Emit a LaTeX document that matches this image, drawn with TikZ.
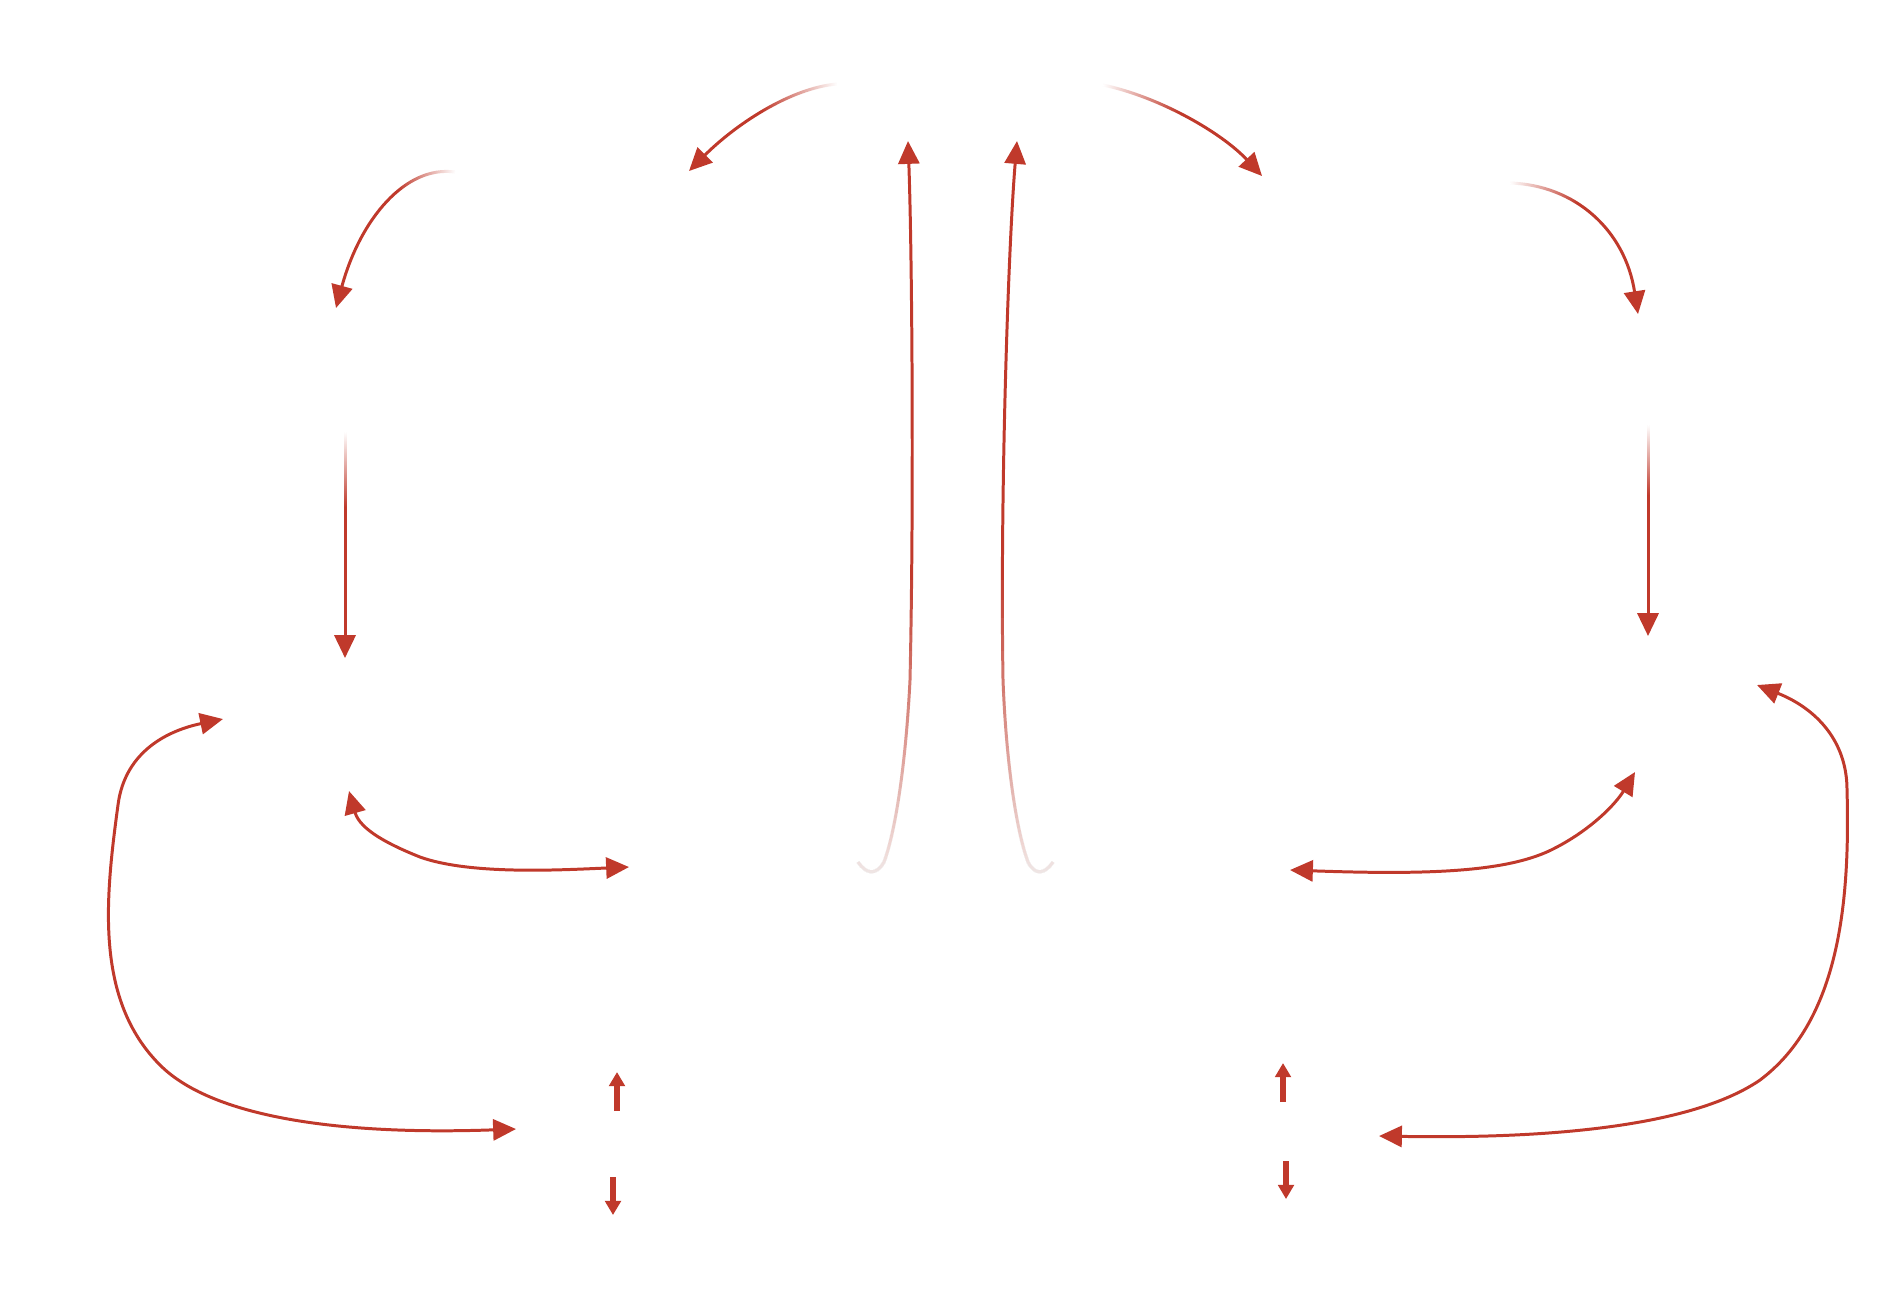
\documentclass[tikz,border=0pt]{standalone}
\usetikzlibrary{arrows.meta,fadings}
\definecolor{arr}{HTML}{C0392B}
\tikzfading[name=fadeout, inner color=transparent!0, outer color=transparent!100]
\begin{document}
\begin{tikzpicture}[x=0.01cm,y=-0.01cm,
  conn/.style={draw=arr, line width=0.85pt, -{Triangle[length=6.5pt,width=6pt]}},
  dbl/.style={draw=arr, line width=0.85pt, {Triangle[length=6.5pt,width=6pt]}-{Triangle[length=6.5pt,width=6pt]}},
  tiny/.style={draw=arr, line width=1.5pt, -{Triangle[length=4pt,width=4.4pt]}},
  eraser/.style={fill=white, path fading=fadeout},
  veil/.style={fill=white, opacity=0.06}]
\useasboundingbox (0,0) rectangle (1889,1299);
% end points
\coordinate (tlS) at (837,84);   \coordinate (tlE) at (689,171);
\coordinate (trS) at (1103,85);  \coordinate (trE) at (1262,176);
\coordinate (vlS) at (858,862);  \coordinate (vlE) at (908,141);
\coordinate (vrS) at (1053,862); \coordinate (vrE) at (1017,141);
\coordinate (slS) at (455,172);  \coordinate (slE) at (336,308);
\coordinate (srS) at (1510,183); \coordinate (srE) at (1638,314);
\coordinate (dlS) at (345,432);  \coordinate (dlE) at (345,658);
\coordinate (drS) at (1648,425); \coordinate (drE) at (1648,636);
\coordinate (blA) at (223,719);  \coordinate (blB) at (516,1129);
\coordinate (mlA) at (349,791);  \coordinate (mlB) at (629,867);
\coordinate (mrA) at (1635,772); \coordinate (mrB) at (1290,870);
\coordinate (brA) at (1757,685); \coordinate (brB) at (1379,1136);
\coordinate (ulT) at (617,1111); \coordinate (ulH) at (617,1072);
\coordinate (dlT) at (613,1177); \coordinate (dlH) at (613,1215);
\coordinate (urT) at (1283,1102);\coordinate (urH) at (1283,1063);
\coordinate (drT) at (1286,1161);\coordinate (drH) at (1286,1199);
% top arcs
\draw[conn] (tlS) .. controls (790,88) and (735,125) .. (tlE);
\draw[conn] (trS) .. controls (1160,97) and (1222,133) .. (trE);
% long verticals
\draw[conn] (vlS) .. controls (866,874) and (876,876) .. (884,862)
  .. controls (896,830) and (906,760) .. (910,680)
  .. controls (914,500) and (912,250) .. (vlE);
\draw[conn] (vrS) .. controls (1045,874) and (1035,876) .. (1028,862)
  .. controls (1016,830) and (1006,760) .. (1003,680)
  .. controls (1000,500) and (1008,250) .. (vrE);
% small upper arcs
\draw[conn] (slS) .. controls (405,165) and (360,220) .. (slE);
\draw[conn] (srS) .. controls (1575,185) and (1625,230) .. (srE);
% straight verticals
\draw[conn] (dlS) -- (dlE);
\draw[conn] (drS) -- (drE);
% big loops
\draw[dbl] (blA) .. controls (170,730) and (125,750) .. (118,805)
  .. controls (105,900) and (95,1000) .. (160,1065)
  .. controls (215,1120) and (350,1135) .. (blB);
\draw[dbl] (brA) .. controls (1815,708) and (1847,740) .. (1847,790)
  .. controls (1850,900) and (1840,1020) .. (1760,1080)
  .. controls (1680,1135) and (1500,1138) .. (brB);
% middle double arrows
\draw[dbl] (mlA) .. controls (360,830) and (390,845) .. (420,857)
  .. controls (470,875) and (560,870) .. (mlB);
\draw[dbl] (mrA) .. controls (1615,805) and (1590,830) .. (1555,848)
  .. controls (1510,872) and (1430,875) .. (mrB);
% tiny arrows
\draw[tiny] (ulT) -- (ulH);
\draw[tiny] (dlT) -- (dlH);
\draw[tiny] (urT) -- (urH);
\draw[tiny] (drT) -- (drH);
% faded starts
\fill[eraser] (tlS) circle (80);
\fill[eraser] (trS) circle (80);
\fill[eraser] (slS) circle (60);
\fill[eraser] (srS) circle (70);
\fill[eraser] (dlS) circle (75);
\fill[eraser] (drS) circle (70);
\foreach \j in {1,...,46}{
  \pgfmathsetmacro\yy{560+340*(1-0.94^\j)}
  \fill[veil] (835,\yy) rectangle (940,1000);
  \fill[veil] (980,\yy) rectangle (1075,1000);
}
\end{tikzpicture}
\end{document}
